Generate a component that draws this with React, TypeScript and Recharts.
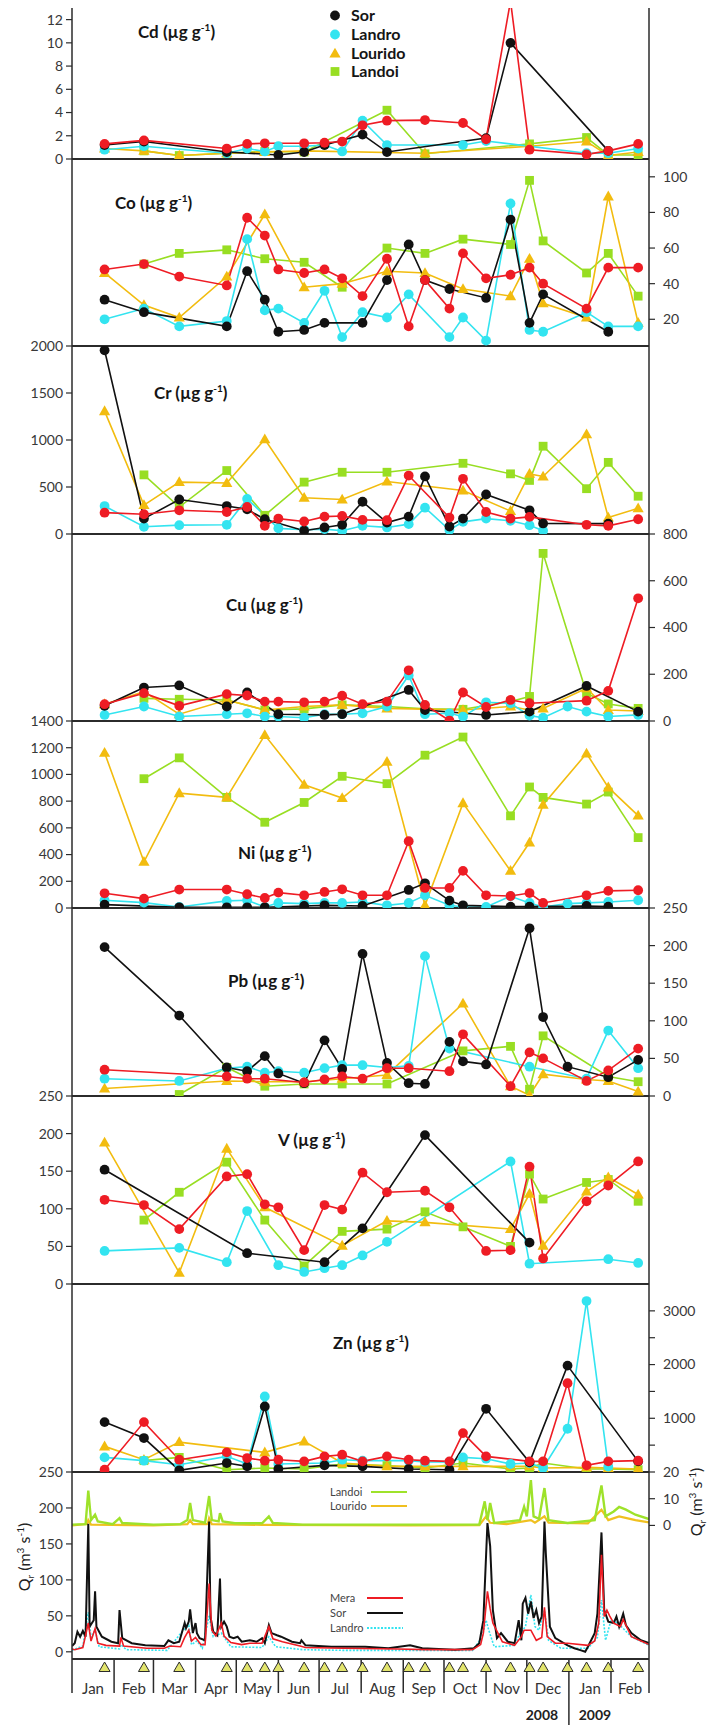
import React from 'react';
import { LineChart, Line, XAxis, YAxis } from 'recharts';

const N = null;

// Sampling dates (triangles on the time axis)
const sampleDates = [
  '2008-01-25', '2008-02-23', '2008-03-20', '2008-04-24', '2008-05-09', '2008-05-22',
  '2008-06-01', '2008-06-20', '2008-07-05', '2008-07-18', '2008-08-02', '2008-08-20',
  '2008-09-05', '2008-09-17', '2008-10-05', '2008-10-15', '2008-11-01', '2008-11-19',
  '2008-12-03', '2008-12-13', '2008-12-31', '2009-01-14', '2009-01-30', '2009-02-21',
];
const monthStarts = [
  '2008-01-01', '2008-02-01', '2008-03-01', '2008-04-01', '2008-05-01', '2008-06-01', '2008-07-01',
  '2008-08-01', '2008-09-01', '2008-10-01', '2008-11-01', '2008-12-01', '2009-01-01', '2009-02-01', '2009-03-01',
];
const monthLabels = ['Jan', 'Feb', 'Mar', 'Apr', 'May', 'Jun', 'Jul', 'Aug', 'Sep', 'Oct', 'Nov', 'Dec', 'Jan', 'Feb'];
const yearLabels = ['2008', '2009'];

// Cd
const cdMera = [1.3, 1.6, N, 0.9, 1.3, 1.35, N, 1.35, 1.4, 1.5, 2.9, 3.3, N, 3.35, N, 3.1, 1.7, 13.6, 0.8, N, N, 0.4, 0.7, 1.3];
const cdSor = [1.2, 1.5, N, 0.6, N, N, 0.35, 0.6, 1.2, N, 2.1, 0.6, N, N, N, N, 1.8, 10.0, N, N, N, N, 0.7, N];
const cdLandro = [0.8, 1.1, N, 0.5, 0.9, 0.65, 1.1, 1.1, 1.2, 0.65, 3.3, 1.2, N, N, N, 1.2, 1.55, N, N, N, N, 0.5, 0.5, 0.9];
const cdLourido = [0.9, 0.7, 0.3, 0.5, N, 0.6, N, 0.7, N, N, N, N, N, 0.5, N, N, N, N, 1.1, N, N, 1.5, 0.3, 0.6];
const cdLandoi = [N, 0.7, 0.3, 0.5, N, 0.65, N, 0.6, N, N, N, 4.2, N, 0.45, N, N, N, N, 1.3, N, N, 1.85, 0.35, 0.35];
// Co
const coMera = [48, 51, 44, 39, 77, 67, 48, 46, 48, 43, 33, 54, 16, 42, 26, 57, 43, 45, 49, 40, N, 26, 49, 49];
const coSor = [31, 24, N, 16, 47, 31, 13, 14, 18, N, 18, 42, 62, 42, 37, N, 32, 76, 18, 34, N, N, 13, N];
const coLandro = [20, 26, 16, 19, 65, 25, 26, 18, 36, 10, 24, 21, 34, N, 10, 21, 8, 85, 14, 13, N, 24, 16, 16];
const coLourido = [46, 28, 21, 44, N, 79, N, 38, N, 40, N, 47, N, 46, N, 37, N, 33, 54, 29, N, 21, 89, 18];
const coLandoi = [N, 51, 57, 59, N, 54, N, 52, N, 38, N, 60, N, 57, N, 65, N, 62, 98, 64, N, 46, 57, 33];
// Cr
const crMera = [227, 210, 252, 234, 287, 87, 164, 133, 185, 192, 150, 147, 622, N, 175, 587, 234, 164, 182, N, N, 98, 87, 157];
const crSor = [1955, 164, 367, 297, 262, 157, N, 35, 70, 98, 343, 122, 185, 612, 80, 164, 420, N, 252, 112, N, N, 110, N];
const crLandro = [297, 77, 94, 98, 374, N, 60, 45, 52, 35, 87, 70, 105, 280, 42, 129, 164, 140, 94, 35, N, N, N, N];
const crLourido = [1307, 308, 552, 542, N, 1007, N, 385, N, 367, N, 559, N, N, N, 462, N, 245, 640, 612, N, 1060, 175, 273];
const crLandoi = [N, 629, 287, 675, N, 199, N, 552, N, 657, N, 657, N, N, N, 752, N, 640, 570, 934, N, 482, 762, 402];
// Cu
const cuMera = [72, 119, 65, 115, 109, 83, 83, 80, 83, 108, 72, 83, 217, 69, 2, 122, 60, 90, 76, N, N, 87, 129, 525];
const cuSor = [65, 143, 152, 62, 122, N, 29, N, 26, 29, N, N, 133, 47, N, N, 26, N, 40, N, N, 150, N, 40];
const cuLandro = [26, 62, 19, 29, 33, 19, 19, 14, 29, 29, 33, 62, 195, 29, 33, 19, 80, 76, 23, 14, 62, 40, 19, 26];
const cuLourido = [72, 126, 29, 90, N, 47, N, 62, N, 69, N, 54, N, N, N, 47, N, 62, 47, 54, N, 140, 47, 43];
const cuLandoi = [N, 97, 93, 90, N, 47, N, 52, N, 69, N, 62, N, 52, N, 50, N, 83, 105, 717, N, 119, 73, 54];
// Ni
const niMera = [110, 70, 138, 138, 103, 75, 115, 95, 120, 140, 95, 95, 500, 150, 150, 278, 95, 90, 112, 38, N, 95, 128, 133];
const niSor = [25, N, 5, 5, 5, 5, N, 15, 20, N, 15, N, 135, 185, 55, 20, N, 10, 10, N, N, 15, 10, N];
const niLandro = [58, 40, 8, 53, 58, 8, 38, 33, 38, 38, 45, 20, 38, 95, 20, 8, 8, 88, 38, 8, 33, 38, 45, 58];
const niLourido = [1162, 346, 860, 828, N, 1295, N, 923, N, 823, N, 1094, N, 20, N, 785, N, 278, 490, 773, N, 1157, 903, 692];
const niLandoi = [N, 968, 1124, 828, N, 642, N, 790, N, 986, N, 931, N, 1144, N, 1280, N, 690, 906, 828, N, 778, 868, 527];
// Pb
const pbMera = [35, N, N, 26, 23, 23, N, 18, 22, 26, 23, 37, 37, N, 33, 82, N, 13, 58, 50, N, 20, 34, 63];
const pbSor = [198, N, 107, 38, 33, 53, 30, 17, 74, 36, 189, 44, 17, 16, 72, 46, 42, N, 223, 105, 39, N, 25, 48];
const pbLandro = [23, N, 20, 37, 39, 31, 33, 31, 37, 41, 41, 38, 40, 186, 63, N, N, N, 39, N, N, 23, 87, 37];
const pbLourido = [10, N, N, 20, N, 19, N, 19, N, 23, N, 28, N, N, N, 123, N, 13, 1, 29, N, 22, 20, 6];
const pbLandoi = [N, N, 2, 38, N, 13, N, 16, N, 16, N, 16, N, N, N, 60, N, 66, 9, 80, N, N, 26, 19];
// V
const vMera = [112, 105, 73, 143, 146, 106, 102, 45, 105, 99, 148, 122, N, 124, 102, N, 44, 45, 156, 34, N, 110, 131, 163];
const vSor = [152, N, N, N, 41, N, N, N, 29, N, 74, N, N, 198, N, N, N, N, 55, N, N, N, N, N];
const vLandro = [44, N, 48, 29, 97, N, 25, 16, 21, 25, 38, 56, N, N, N, N, N, 163, 27, N, N, N, 33, 28];
const vLourido = [188, N, 15, 180, N, 102, N, N, N, 51, N, 84, N, 82, N, N, N, 73, 120, 51, N, 123, 142, 119];
const vLandoi = [N, 85, 122, 162, N, 85, N, 24, N, 70, N, 73, N, 96, N, 76, N, 50, 146, 113, N, 135, 139, 110];
// Zn
const znMera = [43, 929, 229, 365, 260, 211, 229, 198, 291, 322, 198, 291, 229, 211, 198, 724, 291, N, 198, 198, 1653, 124, 198, 211];
const znSor = [929, 632, 31, 167, 105, 1220, 56, N, 124, N, 105, N, 56, N, 43, N, 1176, N, 180, N, 1981, N, N, 198];
const znLandro = [272, 211, 136, 291, 149, 1406, 149, N, 167, 229, 211, N, 211, 186, 186, 272, 248, 149, 167, 74, 805, 3183, 100, N];
const znLourido = [477, 229, 557, N, N, 365, N, 570, N, 167, N, 105, N, 105, N, 105, N, 105, 105, 74, N, 87, 74, 56];
const znLandoi = [N, 211, 272, 43, N, 74, N, 56, N, 149, N, 118, N, 74, N, 167, N, 56, 74, 167, N, 56, 56, 43];

// Discharge (day since 1 Jan 2008, m3/s)
const flowSor = [
  [0, 8], [2, 12], [4, 28], [6, 21], [8, 29], [10, 21], [12, 178], [13, 35], [16, 44], [17, 84], [18, 35], [22, 21],
  [29, 14], [34, 12], [35, 58], [37, 19], [44, 12], [54, 9], [68, 8], [71, 16], [75, 12], [79, 14], [83, 40], [84, 33],
  [86, 42], [87, 59], [89, 26], [91, 40], [92, 26], [94, 19], [98, 16], [101, 181], [102, 49], [104, 28], [107, 23],
  [109, 102], [110, 35], [112, 42], [114, 35], [116, 21], [119, 19], [122, 21], [125, 14], [131, 16], [136, 14],
  [140, 19], [142, 12], [145, 37], [147, 26], [151, 23], [154, 21], [162, 14], [168, 12], [169, 16], [172, 9],
  [191, 7], [216, 7], [233, 5], [249, 9], [258, 5], [282, 3], [296, 5], [300, 12], [303, 44], [306, 179], [308, 147],
  [310, 58], [313, 19], [316, 26], [321, 14], [326, 12], [329, 44], [331, 16], [332, 67], [334, 75], [336, 53],
  [338, 70], [340, 47], [342, 58], [344, 40], [346, 49], [348, 181], [349, 137], [352, 35], [356, 19], [365, 9],
  [370, 5], [375, 2], [378, 0], [380, 7], [385, 26], [387, 53], [390, 166], [392, 58], [395, 42], [399, 40],
  [401, 49], [403, 35], [406, 53], [408, 37], [412, 26], [419, 16], [425, 12],
];
const flowMera = [
  [0, 4], [2, 3], [8, 6], [12, 40], [14, 15], [17, 32], [19, 12], [25, 9], [35, 8], [36, 20], [38, 8], [55, 5], [68, 5],
  [72, 8], [80, 7], [83, 20], [86, 30], [88, 15], [91, 20], [95, 10], [98, 10], [101, 95], [103, 30], [106, 22],
  [110, 40], [112, 22], [117, 13], [125, 10], [131, 12], [140, 12], [145, 35], [148, 18], [155, 14], [168, 8],
  [172, 6], [200, 5], [240, 4], [260, 3], [295, 3], [301, 10], [303, 26], [306, 84], [308, 60], [310, 40], [317, 14],
  [326, 9], [331, 21], [333, 30], [338, 30], [342, 16], [346, 20], [348, 62], [350, 21], [356, 12], [365, 12],
  [380, 9], [385, 15], [388, 40], [390, 135], [392, 49], [394, 58], [396, 50], [399, 40], [404, 35], [406, 45],
  [412, 21], [425, 10],
];
const flowLandro = [
  [0, 2], [5, 6], [8, 8], [12, 55], [14, 20], [17, 30], [20, 7], [35, 4], [36, 10], [40, 3], [70, 2], [82, 30], [86, 37],
  [88, 10], [92, 15], [96, 5], [101, 50], [104, 21], [110, 26], [117, 7], [140, 6], [145, 21], [150, 7], [170, 3],
  [200, 2], [260, 2], [295, 2], [302, 20], [305, 44], [307, 30], [311, 7], [326, 9], [330, 26], [334, 35], [338, 79],
  [341, 35], [344, 30], [348, 58], [351, 16], [360, 5], [380, 5], [387, 20], [390, 72], [393, 16], [397, 44],
  [402, 40], [412, 21], [425, 9],
];
const flowLandoi = [
  [0, 0.3], [10, 0.5], [12, 13], [14, 2], [17, 4], [19, 1.5], [30, 0.5], [35, 2.7], [37, 0.9], [60, 0.3], [80, 0.5],
  [85, 2], [87, 8.4], [89, 2], [98, 1], [101, 11], [103, 2], [108, 1.5], [109, 4.6], [111, 1.5], [120, 0.8],
  [140, 0.8], [145, 3.4], [148, 0.9], [170, 0.3], [250, 0.3], [300, 0.3], [304, 9], [306, 2], [308, 8.4], [311, 0.9],
  [322, 1.5], [330, 2], [333, 7], [335, 3.4], [338, 17], [340, 3.4], [344, 2.5], [348, 14], [351, 2], [365, 0.9],
  [385, 2], [390, 15], [393, 3.4], [399, 5.2], [403, 6.9], [408, 5.9], [415, 4], [425, 2.4],
];
const flowLourido = [
  [0, 0], [11, 0.5], [12, 2], [14, 0.3], [60, 0], [85, 0.5], [87, 2], [89, 0.5], [100, 0.5], [101, 2.7], [103, 0.5],
  [140, 0.2], [250, 0], [300, 0.1], [305, 3.4], [308, 1], [320, 0.5], [338, 2], [341, 1], [348, 3.4], [351, 1],
  [380, 0.8], [390, 5.9], [395, 2], [403, 3.4], [415, 2], [425, 1.1],
];

// ---------- helpers ----------
const DAY0 = Date.UTC(2008, 0, 1);
const toDay = (s: string) => {
  const [y, m, d] = s.split('-').map(Number);
  return Math.round((Date.UTC(y, m - 1, d) - DAY0) / 86400000);
};
const sampleDays = sampleDates.map(toDay);
const monthDays = monthStarts.map(toDay);
const monthMids = monthDays.slice(0, -1).map((d, i) => (d + monthDays[i + 1]) / 2);
const X_DOMAIN: [number, number] = [0, monthDays[monthDays.length - 1]];

const COLORS: Record<string, string> = {
  mera: '#ee1c24',
  sor: '#111111',
  landro: '#33e4f0',
  lourido: '#f2bc0f',
  landoi: '#98de22',
};
const SHAPES: Record<string, string> = {
  mera: 'circle', sor: 'circle', landro: 'circle', lourido: 'triangle', landoi: 'square',
};
const ORDER = ['landoi', 'lourido', 'landro', 'sor', 'mera'];
const AX = '#2b2b2b';
const FONT = 'Lato, "Open Sans", sans-serif';

function Marker({ shape, cx, cy, color }: any) {
  if (shape === 'triangle')
    return <path d={`M${cx},${cy - 5.8} L${cx + 5.6},${cy + 4} L${cx - 5.6},${cy + 4} Z`} fill={color} />;
  if (shape === 'square') return <rect x={cx - 4.4} y={cy - 4.4} width={8.8} height={8.8} fill={color} />;
  return <circle cx={cx} cy={cy} r={4.9} fill={color} />;
}

const dotFor = (key: string) => (p: any) => {
  const k = `${key}-${p.index}`;
  if (p.value == null || p.cx == null || p.cy == null || isNaN(p.cy)) return <g key={k} />;
  return (
    <g key={k}>
      <Marker shape={SHAPES[key]} cx={p.cx} cy={p.cy} color={COLORS[key]} />
    </g>
  );
};

const yTick = (show?: (v: number) => boolean) => (p: any) => {
  const v = p.payload.value;
  if (show && !show(v)) return <g />;
  return (
    <text x={p.x} y={p.y} dy="0.35em" textAnchor={p.textAnchor} fontFamily={FONT} fontSize={14} fill="#383838">
      {v}
    </text>
  );
};

const W = 709;
const ML = 71; // + 1px y-axis width => plot starts at x = 72
const MR = 59; // + 1px => plot ends at x = 649

type PanelDef = {
  name: string;
  top: number;
  bottom: number;
  side: 'left' | 'right';
  domain: [number, number];
  ticks: number[];
  showTick?: (v: number) => boolean;
  vals: Record<string, (number | null)[]>;
  title: [number, number];
};

const panels: PanelDef[] = [
  { name: 'Cd', top: 8, bottom: 159, side: 'left', domain: [0, 13], ticks: [0, 2, 4, 6, 8, 10, 12],
    vals: { mera: cdMera, sor: cdSor, landro: cdLandro, lourido: cdLourido, landoi: cdLandoi }, title: [138, 32] },
  { name: 'Co', top: 159, bottom: 346, side: 'right', domain: [5, 110], ticks: [20, 40, 60, 80, 100],
    vals: { mera: coMera, sor: coSor, landro: coLandro, lourido: coLourido, landoi: coLandoi }, title: [115, 203] },
  { name: 'Cr', top: 346, bottom: 534, side: 'left', domain: [0, 2000], ticks: [0, 500, 1000, 1500, 2000],
    vals: { mera: crMera, sor: crSor, landro: crLandro, lourido: crLourido, landoi: crLandoi }, title: [154, 393] },
  { name: 'Cu', top: 534, bottom: 721, side: 'right', domain: [0, 800], ticks: [0, 200, 400, 600, 800],
    vals: { mera: cuMera, sor: cuSor, landro: cuLandro, lourido: cuLourido, landoi: cuLandoi }, title: [226, 605] },
  { name: 'Ni', top: 721, bottom: 908, side: 'left', domain: [0, 1400], ticks: [0, 200, 400, 600, 800, 1000, 1200, 1400],
    vals: { mera: niMera, sor: niSor, landro: niLandro, lourido: niLourido, landoi: niLandoi }, title: [238, 853] },
  { name: 'Pb', top: 908, bottom: 1096, side: 'right', domain: [0, 250], ticks: [0, 50, 100, 150, 200, 250],
    vals: { mera: pbMera, sor: pbSor, landro: pbLandro, lourido: pbLourido, landoi: pbLandoi }, title: [228, 981] },
  { name: 'V', top: 1096, bottom: 1284, side: 'left', domain: [0, 250], ticks: [0, 50, 100, 150, 200, 250],
    vals: { mera: vMera, sor: vSor, landro: vLandro, lourido: vLourido, landoi: vLandoi }, title: [278, 1140] },
  { name: 'Zn', top: 1284, bottom: 1472, side: 'right', domain: [0, 3500], ticks: [500, 1000, 1500, 2000, 2500, 3000],
    showTick: (v) => v % 1000 === 0,
    vals: { mera: znMera, sor: znSor, landro: znLandro, lourido: znLourido, landoi: znLandoi }, title: [333, 1343] },
];

function Title({ name, x, y }: any) {
  return (
    <div style={{ position: 'absolute', left: x, top: y - 11, height: 22, lineHeight: '22px', whiteSpace: 'nowrap',
      fontFamily: FONT, fontWeight: 700, fontSize: 17, color: '#151515' }}>
      {name} (µg g<sup style={{ fontSize: 10, verticalAlign: 'super', lineHeight: 0 }}>-1</sup>)
    </div>
  );
}

function Panel({ def }: { def: PanelDef }) {
  const data = sampleDays.map((day, i) => {
    const row: any = { day };
    ORDER.forEach((k) => { row[k] = def.vals[k][i]; });
    return row;
  });
  const other = def.side === 'left' ? 'right' : 'left';
  return (
    <div style={{ position: 'absolute', left: 0, top: def.top }}>
      <LineChart width={W} height={def.bottom - def.top + 1} data={data} margin={{ top: 0, right: MR, bottom: 0, left: ML }}>
        <XAxis dataKey="day" type="number" domain={X_DOMAIN} ticks={[]} tick={false} tickLine={false}
          axisLine={{ stroke: AX, strokeWidth: 2 }} height={1} allowDataOverflow />
        <YAxis yAxisId="v" orientation={def.side} domain={def.domain} ticks={def.ticks} interval={0} width={1}
          tickSize={6} tickMargin={def.side === 'left' ? 3 : 8} tick={yTick(def.showTick)}
          axisLine={{ stroke: AX, strokeWidth: 1.5 }} tickLine={{ stroke: AX, strokeWidth: 1.2 }} allowDataOverflow />
        <YAxis yAxisId="o" orientation={other} domain={[0, 1]} ticks={[]} tick={false} tickLine={false} width={1}
          axisLine={{ stroke: AX, strokeWidth: 1.5 }} />
        {ORDER.map((k) => (
          <Line key={k} yAxisId="v" dataKey={k} stroke={COLORS[k]} strokeWidth={1.6} connectNulls
            dot={dotFor(k)} activeDot={false} isAnimationActive={false} />
        ))}
      </LineChart>
      <Title name={def.name} x={def.title[0]} y={def.title[1] - def.top} />
    </div>
  );
}

const sepTick = (p: any) => {
  const v = p.payload.value;
  const isYear = v === monthDays[12];
  return (
    <g>
      <line x1={p.x} y1={p.y} x2={p.x} y2={p.y + (isYear ? 66 : 34)} stroke={AX} strokeWidth={1.5} />
      {isYear && (
        <>
          <text x={p.x - 27} y={p.y + 61} textAnchor="middle" fontFamily={FONT} fontWeight={700} fontSize={14} fill="#222">
            {yearLabels[0]}
          </text>
          <text x={p.x + 26} y={p.y + 61} textAnchor="middle" fontFamily={FONT} fontWeight={700} fontSize={14} fill="#222">
            {yearLabels[1]}
          </text>
        </>
      )}
    </g>
  );
};
const triTick = (p: any) => {
  const x = p.x;
  const y = p.y + 7;
  return <path d={`M${x},${y - 5} L${x + 5.5},${y + 4.5} L${x - 5.5},${y + 4.5} Z`} fill="#e2e46c" stroke="#2b2b2b" strokeWidth={1} />;
};
const midTick = (p: any) => {
  const i = monthMids.indexOf(p.payload.value);
  return (
    <text x={p.x} y={p.y + 33} textAnchor="middle" fontFamily={FONT} fontSize={15} fill="#333">
      {monthLabels[i]}
    </text>
  );
};

const toRows = (arr: number[][]) => arr.map(([day, q]) => ({ day, q }));

function FlowPanel() {
  const top = 1472;
  return (
    <div style={{ position: 'absolute', left: 0, top }}>
      <LineChart width={W} height={253} margin={{ top: 0, right: MR, bottom: 0, left: ML }}>
        <XAxis xAxisId="a_sep" dataKey="day" type="number" domain={X_DOMAIN} ticks={monthDays} interval={0} height={1}
          tickSize={0} tickMargin={0} tickLine={false} axisLine={{ stroke: AX, strokeWidth: 2 }} tick={sepTick} allowDataOverflow />
        <XAxis xAxisId="b_tri" dataKey="day" type="number" domain={X_DOMAIN} ticks={sampleDays} interval={0} height={1}
          tickSize={0} tickMargin={0} tickLine={false} axisLine={false} tick={triTick} allowDataOverflow />
        <XAxis xAxisId="c_mid" dataKey="day" type="number" domain={X_DOMAIN} ticks={monthMids} interval={0} height={64}
          tickSize={0} tickMargin={0} tickLine={false} axisLine={false} tick={midTick} allowDataOverflow />
        <YAxis yAxisId="q" orientation="left" domain={[-10, 250]} ticks={[0, 50, 100, 150, 200, 250]} interval={0} width={1}
          tickSize={6} tickMargin={3} tick={yTick()} axisLine={{ stroke: AX, strokeWidth: 1.5 }}
          tickLine={{ stroke: AX, strokeWidth: 1.2 }} allowDataOverflow />
        <YAxis yAxisId="r" orientation="right" domain={[-50, 20]} ticks={[0, 10, 20]} interval={0} width={1}
          tickSize={6} tickMargin={8} tick={yTick()} axisLine={{ stroke: AX, strokeWidth: 1.5 }}
          tickLine={{ stroke: AX, strokeWidth: 1.2 }} allowDataOverflow />
        <Line xAxisId="a_sep" yAxisId="r" data={toRows(flowLourido)} dataKey="q" stroke="#f0c020" strokeWidth={2.2}
          dot={false} activeDot={false} isAnimationActive={false} />
        <Line xAxisId="a_sep" yAxisId="r" data={toRows(flowLandoi)} dataKey="q" stroke="#9ee22a" strokeWidth={2.4}
          dot={false} activeDot={false} isAnimationActive={false} />
        <Line xAxisId="a_sep" yAxisId="q" data={toRows(flowLandro)} dataKey="q" stroke="#33e4f0" strokeWidth={1.6}
          strokeDasharray="2 1.5" dot={false} activeDot={false} isAnimationActive={false} />
        <Line xAxisId="a_sep" yAxisId="q" data={toRows(flowSor)} dataKey="q" stroke="#111" strokeWidth={2}
          dot={false} activeDot={false} isAnimationActive={false} />
        <Line xAxisId="a_sep" yAxisId="q" data={toRows(flowMera)} dataKey="q" stroke="#ee1c24" strokeWidth={1.6}
          dot={false} activeDot={false} isAnimationActive={false} />
      </LineChart>
    </div>
  );
}

function LegendRow({ x, y, label, children, size = 16, bold = true, textX }: any) {
  return (
    <div style={{ position: 'absolute', left: x, top: y - 10, height: 20 }}>
      {children}
      <span style={{ position: 'absolute', left: textX, top: 0, lineHeight: '20px', fontFamily: FONT, fontSize: size,
        fontWeight: bold ? 700 : 400, color: bold ? '#151515' : '#444', whiteSpace: 'nowrap' }}>{label}</span>
    </div>
  );
}

function SymbolIcon({ k }: any) {
  return (
    <svg width={14} height={14} style={{ position: 'absolute', left: -7, top: 3 }}>
      <Marker shape={SHAPES[k]} cx={7} cy={7.5} color={COLORS[k]} />
    </svg>
  );
}

function LineIcon({ color, dash, left }: any) {
  return (
    <svg width={36} height={6} style={{ position: 'absolute', left, top: 7 }}>
      <line x1={0} y1={3} x2={36} y2={3} stroke={color} strokeWidth={2} strokeDasharray={dash} />
    </svg>
  );
}

function QLabel({ cx, cy }: any) {
  return (
    <svg width={24} height={120} style={{ position: 'absolute', left: cx - 12, top: cy - 60, overflow: 'visible' }}>
      <text transform="translate(17,60) rotate(-90)" textAnchor="middle" fontFamily={FONT} fontSize={16} fill="#222">
        Q<tspan fontSize={10} dy={4}>r</tspan>
        <tspan dy={-4}> (m</tspan>
        <tspan fontSize={10} dy={-6}>3</tspan>
        <tspan dy={6}> s</tspan>
        <tspan fontSize={10} dy={-6}>-1</tspan>
        <tspan dy={6}>)</tspan>
      </text>
    </svg>
  );
}

export default function App() {
  return (
    <div style={{ position: 'absolute', left: 0, top: 0, width: 709, height: 1725, background: '#fff', overflow: 'hidden' }}>
      <style>{'.recharts-surface{overflow:visible}'}</style>
      {panels.map((p) => <Panel key={p.name} def={p} />)}
      <FlowPanel />
      {[['sor', 'Sor', 15], ['landro', 'Landro', 34], ['lourido', 'Lourido', 53], ['landoi', 'Landoi', 71]].map(([k, l, y]: any) => (
        <LegendRow key={k} x={335} y={y} label={l} textX={16}>
          <SymbolIcon k={k} />
        </LegendRow>
      ))}
      <LegendRow x={330} y={1492} label="Landoi" size={11} bold={false} textX={0}><LineIcon color="#9ee22a" left={41} /></LegendRow>
      <LegendRow x={330} y={1506} label="Lourido" size={11} bold={false} textX={0}><LineIcon color="#f0c020" left={41} /></LegendRow>
      <LegendRow x={330} y={1598} label="Mera" size={11} bold={false} textX={0}><LineIcon color="#ee1c24" left={37} /></LegendRow>
      <LegendRow x={330} y={1613} label="Sor" size={11} bold={false} textX={0}><LineIcon color="#111" left={37} /></LegendRow>
      <LegendRow x={330} y={1628} label="Landro" size={11} bold={false} textX={0}><LineIcon color="#33e4f0" dash="2 1.5" left={37} /></LegendRow>
      <QLabel cx={25} cy={1557} />
      <QLabel cx={697} cy={1502} />
    </div>
  );
}
